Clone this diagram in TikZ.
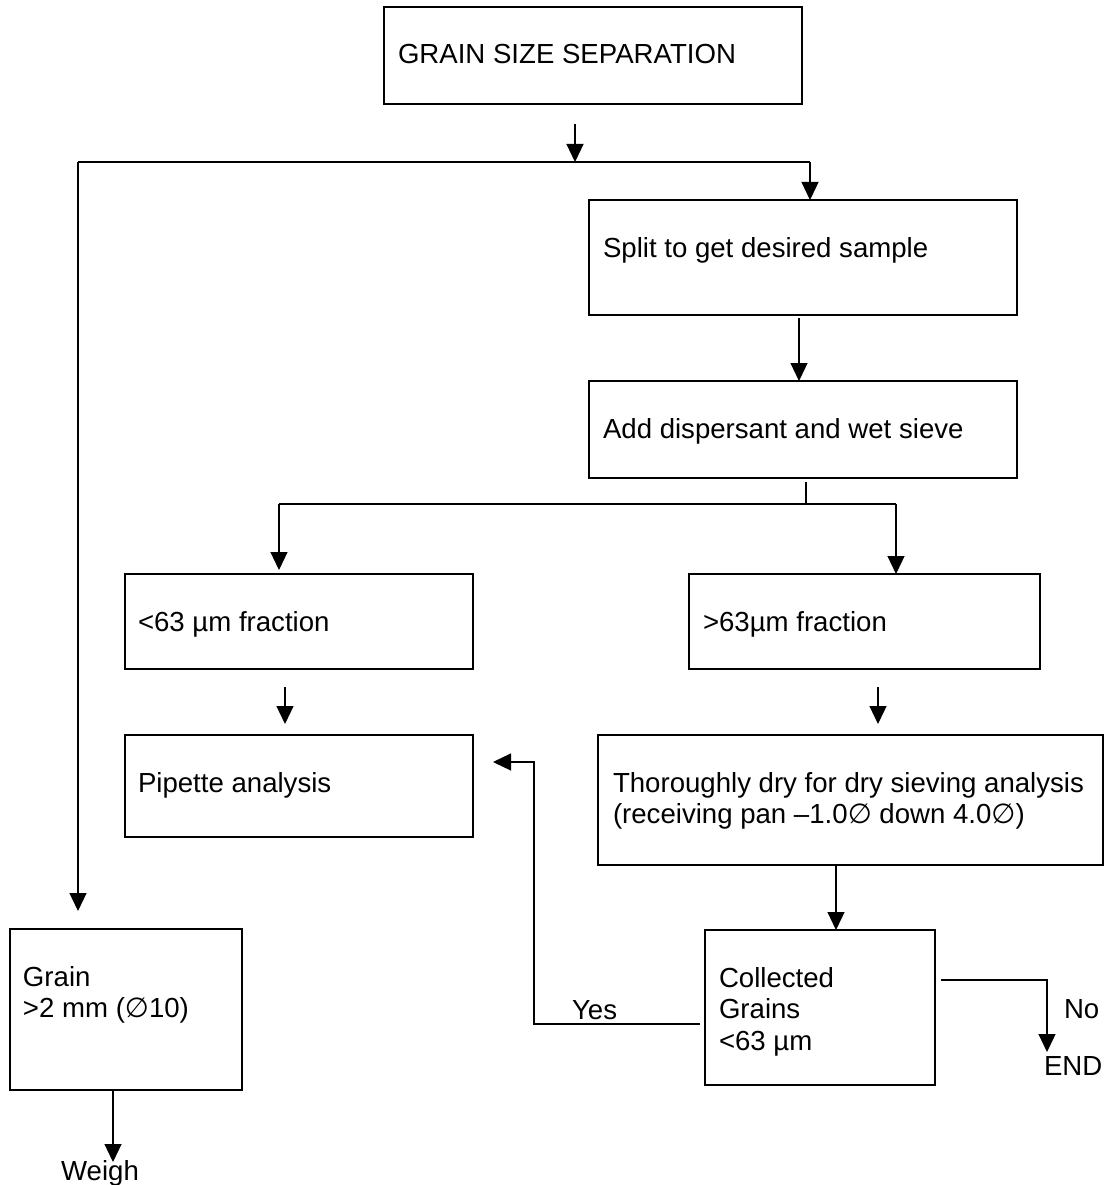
\documentclass[tikz,border=0pt]{standalone}
\usepackage{fontspec}
\setmainfont{Liberation Sans}
\newfontfamily\symf{DejaVu Sans}
\usetikzlibrary{arrows.meta}
\newcommand{\phisym}{{\symf ∅}}
\begin{document}
\begin{tikzpicture}[x=1pt,y=-1pt,
  box/.style={draw, line width=2pt, inner sep=0pt, outer sep=0pt},
  txt/.style={anchor=base west, inner sep=0pt, outer sep=0pt},
  conn/.style={line width=1.2pt},
  arr/.style={conn, -{Triangle[width=17pt,length=18pt]}},
  font=\fontsize{27.6pt}{31.7pt}\selectfont]
\useasboundingbox (0,0) rectangle (1104,1185);

% boxes
\node[box, minimum width=418pt, minimum height=97pt] (start) at (593,55.5) {};
\node[box, minimum width=428pt, minimum height=115pt] (split) at (803,257.5) {};
\node[box, minimum width=428pt, minimum height=97pt] (disp) at (803,429.5) {};
\node[box, minimum width=348pt, minimum height=95pt] (fine) at (299,621.5) {};
\node[box, minimum width=351pt, minimum height=95pt] (coarse) at (864.5,621.5) {};
\node[box, minimum width=348pt, minimum height=102pt] (pipette) at (299,786) {};
\node[box, minimum width=505pt, minimum height=130pt] (dry) at (850.5,800) {};
\node[box, minimum width=230pt, minimum height=155pt] (collected) at (820,1007.5) {};
\node[box, minimum width=232pt, minimum height=161pt] (grain) at (126,1009.5) {};

% texts
\node[txt] (startt) at (398,64) {GRAIN SIZE SEPARATION};
\node[txt] (splitt) at (603,257) {Split to get desired sample};
\node[txt] (dispt) at (603,438) {Add dispersant and wet sieve};
\node[txt] (finet) at (138,631) {<63 µm fraction};
\node[txt] (coarset) at (703,631) {>63µm fraction};
\node[txt] (pipettet) at (138,792) {Pipette analysis};
\node[txt] (dryt) at (613,792) {\begin{tabular}[t]{@{}l@{}}Thoroughly dry for dry sieving analysis\\(receiving pan –1.0\phisym{} down 4.0\phisym)\end{tabular}};
\node[txt] (collectedt) at (719,987) {\begin{tabular}[t]{@{}l@{}}Collected\\Grains\\<63 µm\end{tabular}};
\node[txt] (graint) at (23,986) {\begin{tabular}[t]{@{}l@{}}Grain\\>2 mm (\phisym10)\end{tabular}};
\node[txt] (yes) at (572,1019) {Yes};
\node[txt] (no) at (1064,1018) {No};
\node[txt] (endt) at (1044,1075) {END};
\node[anchor=base, inner sep=0pt] (weigh) at (100,1180) {Weigh};

% coordinates
\coordinate (s0) at (575,124);
\coordinate (j1) at (575,162);
\coordinate (jl) at (78,162);
\coordinate (jr) at (810,162);
\coordinate (gtip) at (78,911);
\coordinate (d0) at (806,482);
\coordinate (dl) at (279,504);
\coordinate (dr) at (896,504);
\coordinate (f0) at (285,687);
\coordinate (f1) at (285,724);
\coordinate (c0) at (878,687);
\coordinate (c1) at (878,724);
\coordinate (ytip) at (493,762);
\coordinate (ntip) at (1047,1052);
\coordinate (wtip) at (113,1162);

% connectors
\draw[arr] (s0) -- (j1);
\draw[conn] (jl) -- (jr);
\draw[arr] (jr) -- (jr |- split.north);
\draw[arr] (jl) -- (gtip);
\draw[arr] ([xshift=-4pt,yshift=-3pt]split.south) -- ([xshift=-4pt]disp.north);
\draw[conn] (d0) -- (d0 |- dl);
\draw[conn] (dl) -- (dr);
\draw[arr] (dl) -- ([yshift=4pt]dl |- fine.north);
\draw[arr] (dr) -- (dr |- coarse.north);
\draw[arr] (f0) -- (f1);
\draw[arr] (c0) -- (c1);
\draw[arr] ([xshift=-14.5pt]dry.south) -- ([xshift=16pt]collected.north);
\draw[arr] ([xshift=-5pt,yshift=-16.5pt]collected.west) -| (534,762) -- (ytip);
\draw[arr] ([xshift=6pt,yshift=27.5pt]collected.east) -| (ntip);
\draw[arr] ([xshift=-13pt]grain.south) -- (wtip);
\end{tikzpicture}
\end{document}
